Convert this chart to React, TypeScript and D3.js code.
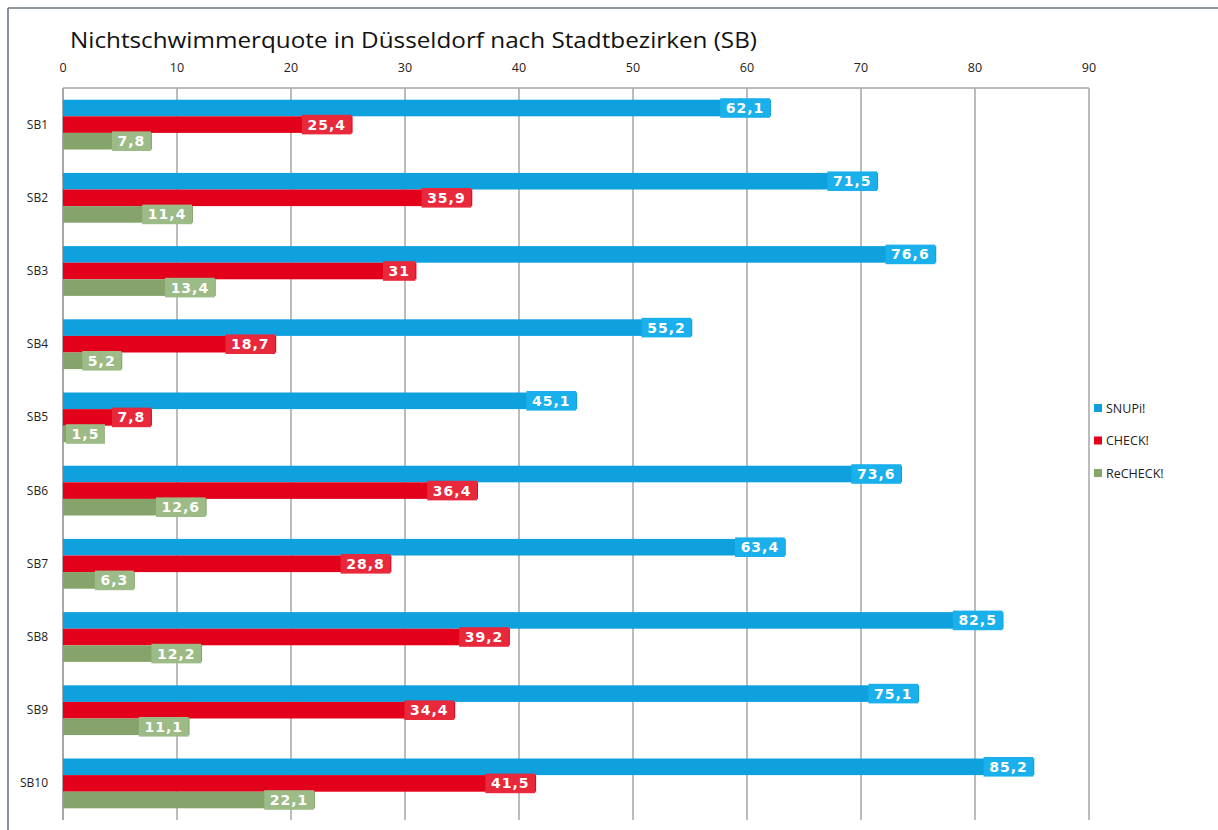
import React from "react";
import * as d3 from "d3";

const categories = ["SB1", "SB2", "SB3", "SB4", "SB5", "SB6", "SB7", "SB8", "SB9", "SB10"];
const seriesNames = ["SNUPi!", "CHECK!", "ReCHECK!"];
const snupi = [62.1, 71.5, 76.6, 55.2, 45.1, 73.6, 63.4, 82.5, 75.1, 85.2];
const check = [25.4, 35.9, 31, 18.7, 7.8, 36.4, 28.8, 39.2, 34.4, 41.5];
const recheck = [7.8, 11.4, 13.4, 5.2, 1.5, 12.6, 6.3, 12.2, 11.1, 22.1];
const xTicks = [0, 10, 20, 30, 40, 50, 60, 70, 80, 90];
const title = "Nichtschwimmerquote in Düsseldorf nach Stadtbezirken (SB)";

const barColors = ["#0ea1dd", "#e2001a", "#85a36b"];
const labelColors = ["#1ab0ec", "#e8293c", "#9dbb86"];

const W = 1218;
const H = 830;
const L = 63;
const R = 1089;
const T = 88;
const B = 820;

const fmt = (v: number) => String(v).replace(".", ",");
const textWidth = (s: string) => {
  let w = 0;
  for (const c of s) w += c === "," ? 5.6 : 9.7;
  return w + (s.length - 1) * 1;
};

export default function App() {
  const x = d3.scaleLinear().domain([0, 90]).range([L, R]);
  const y = d3.scaleBand<string>().domain(categories).range([T, B]).paddingInner(0.32).paddingOuter(0.16);
  const ys = d3.scaleBand<string>().domain(seriesNames).range([0, y.bandwidth()]);
  const data = [snupi, check, recheck];

  return (
    <svg width={W} height={H} style={{ position: "absolute", left: 0, top: 0, background: "#fff" }}>
      <rect x={0} y={0} width={W} height={H} fill="#fff" />
      <line x1={8} y1={8} x2={W} y2={8} stroke="#6b7681" strokeWidth={1.6} />
      <line x1={8} y1={8} x2={8} y2={H} stroke="#6b7681" strokeWidth={1.6} />
      <text
        x={70}
        y={48}
        fontFamily="'Open Sans', Lato, sans-serif"
        fontSize={22.5}
        fill="#111"
        textLength={687}
        lengthAdjust="spacingAndGlyphs"
      >
        {title}
      </text>
      {xTicks.map((t) => (
        <g key={t}>
          <line x1={x(t)} x2={x(t)} y1={T} y2={B} stroke={t === 0 ? "#8a8a8a" : "#a6a6a6"} strokeWidth={1.5} />
          <text x={x(t)} y={72} textAnchor="middle" fontFamily="'Open Sans', sans-serif" fontSize={12.5} fill="#222">
            {t}
          </text>
        </g>
      ))}
      <line x1={L} x2={R} y1={T} y2={T} stroke="#a6a6a6" strokeWidth={1.5} />
      {categories.map((c, i) => (
        <g key={c}>
          <text
            x={48}
            y={(y(c) as number) + y.bandwidth() / 2 + 4}
            textAnchor="end"
            fontFamily="'Open Sans', sans-serif"
            fontSize={12}
            fill="#222"
          >
            {c}
          </text>
          {seriesNames.map((s, k) => {
            const v = data[k][i];
            const by = (y(c) as number) + (ys(s) as number);
            const bh = ys.bandwidth();
            return (
              <rect key={s} x={x(0)} y={by} width={x(v) - x(0)} height={bh} fill={barColors[k]} />
            );
          })}
        </g>
      ))}
      {categories.map((c, i) => (
        <g key={c + "l"}>
          {seriesNames.map((s, k) => {
            const v = data[k][i];
            const label = fmt(v);
            const bw = textWidth(label) + 12;
            const by = (y(c) as number) + (ys(s) as number);
            const bh = ys.bandwidth();
            const right = Math.max(x(v) - 1, x(0) + 3 + bw);
            const left = right - bw;
            return (
              <g key={s}>
                <rect x={left} y={by - 1.5} width={bw} height={bh + 3} fill={labelColors[k]} />
                <text
                  x={left + bw / 2}
                  y={by + bh / 2 + 5}
                  textAnchor="middle"
                  fontFamily="'DejaVu Sans', Verdana, sans-serif"
                  fontWeight="bold"
                  fontSize={14}
                  letterSpacing={1}
                  fill="#fff"
                >
                  {label}
                </text>
              </g>
            );
          })}
        </g>
      ))}
      {seriesNames.map((s, k) => (
        <g key={s} transform={`translate(1094, ${404 + k * 32.5})`}>
          <rect x={0} y={0} width={8} height={8} fill={barColors[k]} />
          <text x={12} y={8.5} fontFamily="'Open Sans', sans-serif" fontSize={12.5} fill="#222">
            {s}
          </text>
        </g>
      ))}
    </svg>
  );
}
